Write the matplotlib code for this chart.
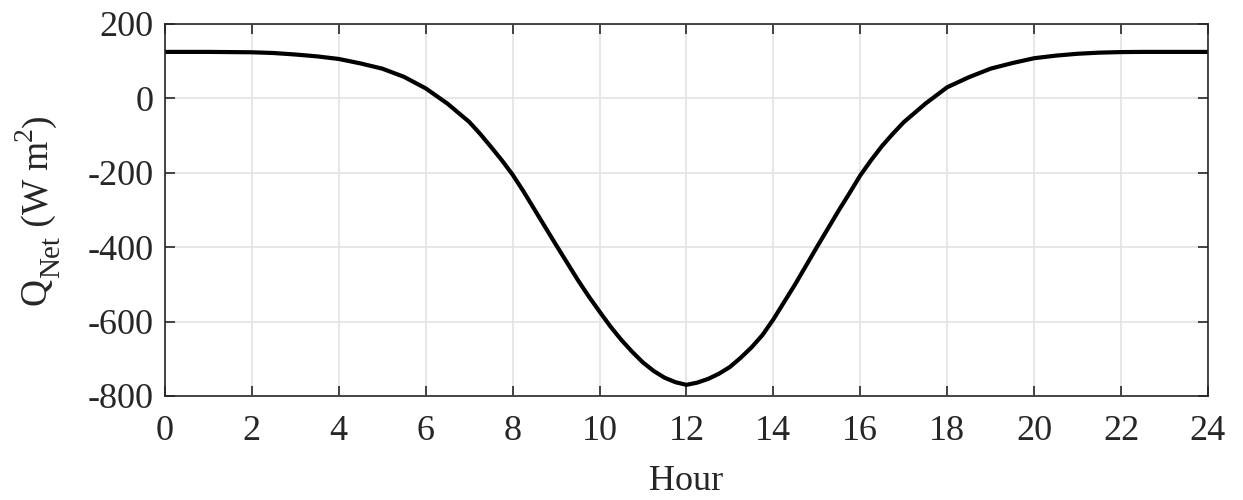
import matplotlib
matplotlib.use('Agg')
import matplotlib.pyplot as plt

# net heat flux (half-hour steps, quarter-hours where it bends)
hours = [0, 0.5, 1, 1.5, 2, 2.5, 3, 3.5, 4, 4.5, 5, 5.5, 6, 6.5, 7, 7.25, 7.5,
         7.75, 8, 8.25, 8.5, 9, 9.5, 9.75, 10, 10.25, 10.5, 10.75, 11, 11.25,
         11.5, 11.75, 12, 12.25, 12.5, 12.75, 13, 13.25, 13.5, 13.75, 14, 14.25,
         14.5, 15, 15.5, 15.75, 16, 16.25, 16.5, 16.75, 17, 17.5, 18, 18.5, 19,
         19.5, 20, 20.5, 21, 21.5, 22, 22.5, 23, 23.5, 24]
q_net = [125, 125, 125, 124.5, 124, 122, 118, 113, 106, 94, 80, 58, 27, -14,
         -63, -95, -130, -166, -205, -250, -298, -394, -488, -532, -573, -613,
         -649, -681, -710, -733, -751, -763, -770, -764, -754, -740, -722, -697,
         -669, -636, -594, -547, -500, -400, -302, -255, -207, -166, -128, -95,
         -64, -14, 30, 57, 80, 95, 108, 115, 120, 123, 124.5, 125, 125, 125, 125]

xticks = list(range(0, 25, 2))
yticks = [-800, -600, -400, -200, 0, 200]

# y label pieces: text, size, baseline shift (pt)
ylab_parts = [('Q', 27, 2), ('Net', 21, -8), (' (W m', 27, 0), ('2', 20, 12), (')', 27, 0)]

plt.rcParams['font.family'] = ['Liberation Serif', 'DejaVu Serif']
plt.rcParams['axes.unicode_minus'] = False

fig = plt.figure(figsize=(12.43, 5.0), dpi=100)
ax = fig.add_axes([0.1327, 0.208, 0.8391, 0.744])

ax.plot(hours, q_net, color='black', lw=3.0, solid_joinstyle='round')

ax.set_xlim(0, 24)
ax.set_ylim(-800, 200)
ax.set_xticks(xticks)
ax.set_yticks(yticks)
ax.grid(True, color='#e3e3e3', lw=1.2)
ax.set_axisbelow(True)

ax.tick_params(direction='in', length=7, width=1.2, colors='#262626',
               top=True, right=True, labelsize=26)
ax.tick_params(axis='x', pad=14)
ax.tick_params(axis='y', pad=8)
for sp in ax.spines.values():
    sp.set_color('#262626')
    sp.set_linewidth(1.2)

ax.set_xlabel('Hour', fontsize=26, color='#262626', labelpad=12)

# build the rotated y label from pieces so sub/superscripts are big like MATLAB's
fig.canvas.draw()
r = fig.canvas.get_renderer()
widths = []
for s, fs, _ in ylab_parts:
    t = fig.text(0, 0, s, fontsize=fs)
    widths.append(t.get_window_extent(r).width)
    t.remove()
total = sum(widths)
x_base = 48                      # baseline position in pixels
y_pos = 500 * (0.208 + 0.744 / 2) - total / 2
for (s, fs, shift), w in zip(ylab_parts, widths):
    fig.text(x_base - shift * 100 / 72, y_pos, s, fontsize=fs, color='#262626',
             rotation=90, rotation_mode='anchor', ha='left', va='baseline',
             transform=None)
    y_pos += w

fig.savefig('out.png', dpi=100)
